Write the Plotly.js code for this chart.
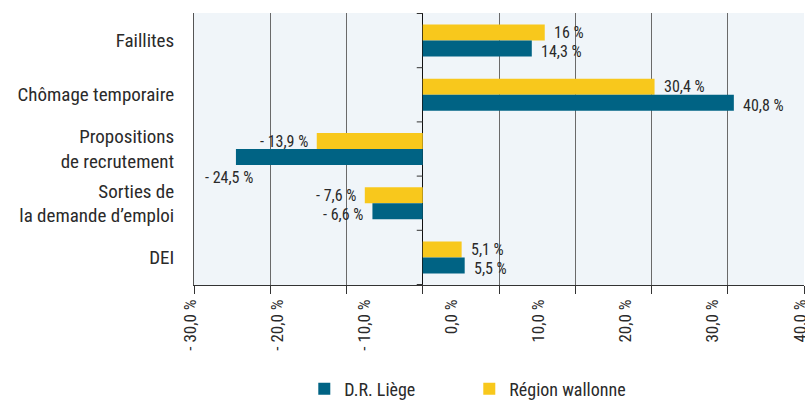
<!DOCTYPE html>
<html><head><meta charset="utf-8">
<script src="https://cdn.plot.ly/plotly-3.0.1.min.js"></script>
<style>body{margin:0;background:#fff}#chart{width:805px;height:401px}</style>
</head><body><div id="chart"></div>
<script>
const categories = ["Faillites", "Chômage temporaire", "Propositions<br>de recrutement", "Sorties de<br>la demande d’emploi", "DEI"];
const regionWallonne = [16, 30.4, -13.9, -7.6, 5.1];
const drLiege = [14.3, 40.8, -24.5, -6.6, 5.5];
const seriesNames = ["D.R. Liège", "Région wallonne"];
const tickValues = [-30, -20, -10, 0, 10, 20, 30, 40];
const tickLabels = ["- 30,0 %", "- 20,0 %", "- 10,0 %", "0,0 %", "10,0 %", "20,0 %", "30,0 %", "40,0 %"];

const FONT = "'Liberation Sans Narrow', 'Roboto Condensed', 'DejaVu Sans Condensed', sans-serif";
const TEAL = "#006384", YELLOW = "#f8c81c";
const XMIN = -30, XMAX = 50;
const PLOT_W = 610;

function fmt(v) {
  return (v < 0 ? "- " : "") + String(Math.abs(v)).replace(".", ",") + " %";
}

const traces = [
  {type: "bar", orientation: "h", name: seriesNames[1], y: categories, x: regionWallonne,
   marker: {color: YELLOW, line: {width: 0}}, hoverinfo: "skip"},
  {type: "bar", orientation: "h", name: seriesNames[0], y: categories, x: drLiege,
   marker: {color: TEAL, line: {width: 0}}, hoverinfo: "skip"},
  {type: "scatter", mode: "markers", x: [], y: [], xaxis: "x2", showlegend: false, hoverinfo: "skip"}
];

const annotations = [];
const pxPerUnit = PLOT_W / (XMAX - XMIN);
function addLabels(vals, yshift) {
  vals.forEach((v, i) => {
    const txt = fmt(v);
    const estW = txt.length * 7.2;
    const a = {x: v, y: categories[i], xref: "x", yref: "y", text: txt, showarrow: false,
      font: {family: FONT, size: 16, color: "#2a2a2a"}, yshift: yshift};
    if (v >= 0) { a.xanchor = "left"; a.xshift = 7; }
    else {
      const leftPx = (v - XMIN) * pxPerUnit - 8 - estW;
      if (leftPx < 0) { a.xanchor = "center"; a.xshift = -7; a.yshift = yshift - 17; }
      else { a.xanchor = "right"; a.xshift = -7; }
    }
    annotations.push(a);
  });
}
addLabels(regionWallonne, 8);
addLabels(drLiege, -11);

const shapes = [];
for (let i = 0; i < categories.length + 1; i++) {
  shapes.push({type: "line", xref: "x", yref: "y", xsizemode: "pixel", xanchor: 0,
    x0: -6, x1: 0, y0: i - 0.5, y1: i - 0.5, line: {color: "#333", width: 1}});
}

const layout = {
  width: 805, height: 401,
  margin: {l: 194, r: 1, t: 13, b: 116},
  paper_bgcolor: "#ffffff", plot_bgcolor: "#f0f5f9",
  font: {family: FONT, size: 17, color: "#2a2a2a"},
  barmode: "group", bargap: 0.41, bargroupgap: 0,
  showlegend: true,
  legend: {orientation: "h", xref: "container", yref: "container", x: 0.378, xanchor: "left",
    y: 0.03, yanchor: "middle",
    traceorder: "reversed", font: {family: FONT, size: 18, color: "#2a2a2a"}, entrywidth: 120},
  xaxis: {range: [XMIN, XMAX], dtick: 10, tick0: 0, showgrid: true, gridcolor: "#6a6a6a", gridwidth: 1,
    zeroline: true, zerolinecolor: "#111", zerolinewidth: 1,
    showline: true, linecolor: "#333", linewidth: 1, mirror: false,
    ticks: "outside", ticklen: 8, tickcolor: "#333", showticklabels: false, fixedrange: true},
  xaxis2: {overlaying: "x", anchor: "y", side: "bottom", range: [-30, 40],
    tickmode: "array", tickvals: tickValues, ticktext: tickLabels, tickangle: -90,
    showgrid: false, zeroline: false, showline: false, ticks: "", ticklabelstandoff: 10, ticklabelshift: -4,
    ticklabeloverflow: "allow",
    tickfont: {family: FONT, size: 17, color: "#2a2a2a"}},
  yaxis: {autorange: "reversed", type: "category", showgrid: false, zeroline: false, showline: true,
    linecolor: "#555", linewidth: 1, ticks: "", ticklabelstandoff: 15,
    tickfont: {family: FONT, size: 19, color: "#2a2a2a"}},
  annotations: annotations,
  shapes: shapes
};

Plotly.newPlot("chart", traces, layout, {displayModeBar: false, staticPlot: true});
</script></body></html>
